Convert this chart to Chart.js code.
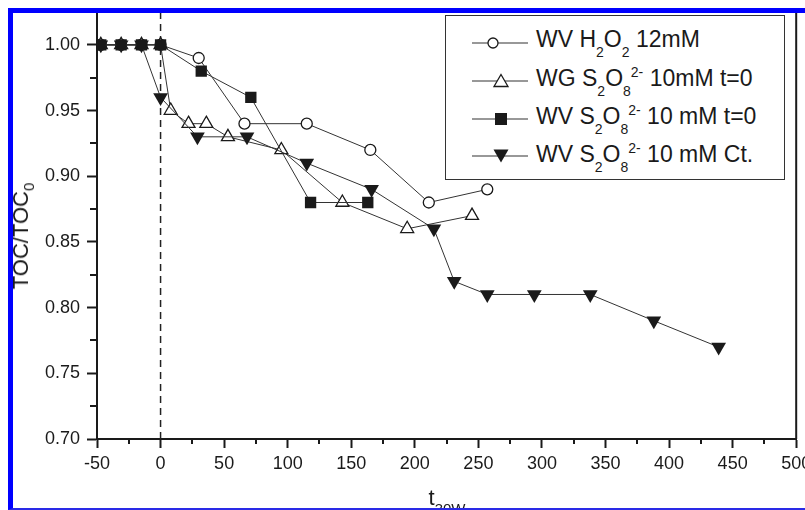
<!DOCTYPE html>
<html>
<head>
<meta charset="utf-8">
<script src="https://cdn.jsdelivr.net/npm/chart.js@4.4.1/dist/chart.umd.min.js"></script>
<style>
  body { margin: 0; background: #fff; }
  #wrap { position: relative; width: 805px; height: 510px; overflow: hidden; background: #fff;
          font-family: "Liberation Sans", Arial, sans-serif; color: #1a1a1a; }
  #c { position: absolute; left: 0; top: 0; }
  #frame { position: absolute; left: 8px; top: 8px; width: 900px; height: 495px;
           border-top: 5px solid #0000ff; border-left: 5px solid #0000ff; border-bottom: 2px solid #2a2ae6;
           pointer-events: none; z-index: 5; }
  #legend { position: absolute; left: 445px; top: 15px; width: 338px; height: 163px;
            border: 1.5px solid #333; background: #fff; }
  .row { position: absolute; left: 90px; font-size: 23px; line-height: 23px; white-space: nowrap; }
  .sub, .sup { position: relative; font-size: 14px; }
  .sub { top: 10px; }
  .sup { top: -9px; }
  .mk { position: absolute; left: 20px; }
  #ytitle { position: absolute; left: 22px; top: 236px; font-size: 22px; line-height: 22px; white-space: nowrap;
            transform: translate(-50%, -50%) rotate(-90deg); }
  #xtitle { position: absolute; left: 447px; top: 487px; font-size: 22px; line-height: 22px; white-space: nowrap;
            transform: translateX(-50%); }
  #ytitle .sub { font-size: 15px; top: 6px; }
  #xtitle .sub { font-size: 15px; top: 9px; }
</style>
</head>
<body>
<div id="wrap">
  <canvas id="c" width="805" height="510"></canvas>
  <div id="ytitle">TOC/TOC<span class="sub">0</span></div>
  <div id="xtitle">t<span class="sub">30W</span></div>
  <div id="legend">
    <svg class="mk" style="top:17px" width="70" height="20">
      <line x1="6" y1="10" x2="62" y2="10" stroke="#333" stroke-width="1.2"/>
      <circle cx="27" cy="10" r="5" fill="#fff" stroke="#1a1a1a" stroke-width="1.3"/>
    </svg>
    <div class="row" style="top:12px">WV H<span class="sub">2</span>O<span class="sub">2</span> 12mM</div>

    <svg class="mk" style="top:55px" width="70" height="20">
      <line x1="6" y1="10" x2="62" y2="10" stroke="#333" stroke-width="1.2"/>
      <polygon points="35,3.5 42,15.5 28,15.5" fill="#fff" stroke="#1a1a1a" stroke-width="1.3"/>
    </svg>
    <div class="row" style="top:50.5px">WG S<span class="sub">2</span>O<span class="sub">8</span><span class="sup">2-</span> 10mM t=0</div>

    <svg class="mk" style="top:93px" width="70" height="20">
      <line x1="6" y1="10" x2="62" y2="10" stroke="#333" stroke-width="1.2"/>
      <rect x="29" y="4" width="12" height="12" fill="#1a1a1a"/>
    </svg>
    <div class="row" style="top:88.5px">WV S<span class="sub">2</span>O<span class="sub">8</span><span class="sup">2-</span> 10 mM t=0</div>

    <svg class="mk" style="top:130px" width="70" height="20">
      <line x1="6" y1="10" x2="62" y2="10" stroke="#333" stroke-width="1.2"/>
      <polygon points="27.5,3.5 42.5,3.5 35,16.5" fill="#1a1a1a"/>
    </svg>
    <div class="row" style="top:127px">WV S<span class="sub">2</span>O<span class="sub">8</span><span class="sup">2-</span> 10 mM Ct.</div>
  </div>
  <div id="frame"></div>
</div>
<script>
// axis ticks
const xTicks = [-50, 0, 50, 100, 150, 200, 250, 300, 350, 400, 450, 500];
const yTicks = [0.70, 0.75, 0.80, 0.85, 0.90, 0.95, 1.00];

// WV H2O2 12mM (open circles)
const h2o2Time = [-47, -31, -15, 0, 30, 66, 115, 165, 211, 257];
const h2o2Toc  = [1.00, 1.00, 1.00, 1.00, 0.99, 0.94, 0.94, 0.92, 0.88, 0.89];

// WG S2O8 10mM t=0 (open triangles)
const wgTime = [-47, -31, -15, 0, 8, 22, 36, 53, 95, 143, 194, 245];
const wgToc  = [1.00, 1.00, 1.00, 1.00, 0.95, 0.94, 0.94, 0.93, 0.92, 0.88, 0.86, 0.87];

// WV S2O8 10 mM t=0 (filled squares)
const wvT0Time = [-47, -31, -15, 0, 32, 71, 118, 163];
const wvT0Toc  = [1.00, 1.00, 1.00, 1.00, 0.98, 0.96, 0.88, 0.88];

// WV S2O8 10 mM Ct. (filled down triangles)
const wvCtTime = [-47, -31, -15, 0, 29, 68, 115, 166, 215, 231, 257, 294, 338, 388, 439];
const wvCtToc  = [1.00, 1.00, 1.00, 0.96, 0.93, 0.93, 0.91, 0.89, 0.86, 0.82, 0.81, 0.81, 0.81, 0.79, 0.77];

const toPoints = (xs, ys) => xs.map((x, i) => ({ x: x, y: ys[i] }));

const ink = '#1a1a1a';
const tickFont = { family: '"Liberation Sans", Arial, sans-serif', size: 18 };

// minor ticks + right/top frame
const axisExtras = {
  id: 'axisExtras',
  afterDraw(chart) {
    const { ctx, chartArea: a, scales: { x, y } } = chart;
    ctx.save();
    ctx.strokeStyle = ink;
    ctx.lineWidth = 2;
    ctx.beginPath();
    ctx.moveTo(a.left, a.top);
    ctx.lineTo(a.right, a.top);
    ctx.lineTo(a.right, a.bottom);
    for (let i = 0; i < xTicks.length - 1; i++) {
      const px = Math.round(x.getPixelForValue((xTicks[i] + xTicks[i + 1]) / 2));
      ctx.moveTo(px, a.bottom);
      ctx.lineTo(px, a.bottom + 5);
    }
    for (let i = 0; i < yTicks.length - 1; i++) {
      const py = Math.round(y.getPixelForValue((yTicks[i] + yTicks[i + 1]) / 2));
      ctx.moveTo(a.left, py);
      ctx.lineTo(a.left - 7, py);
    }
    ctx.stroke();
    ctx.restore();
  }
};

new Chart(document.getElementById('c'), {
  type: 'scatter',
  data: {
    datasets: [
      {
        label: 'WV H2O2 12mM', data: toPoints(h2o2Time, h2o2Toc), order: 4,
        showLine: true, borderColor: '#333', borderWidth: 1,
        pointStyle: 'circle', pointRadius: 5.5, pointBackgroundColor: '#fff',
        pointBorderColor: ink, pointBorderWidth: 1.3
      },
      {
        label: 'WG S2O8 10mM t=0', data: toPoints(wgTime, wgToc), order: 3,
        showLine: true, borderColor: '#333', borderWidth: 1,
        pointStyle: 'triangle', pointRadius: 7.5, pointBackgroundColor: '#fff',
        pointBorderColor: ink, pointBorderWidth: 1.3
      },
      {
        label: 'WV S2O8 10 mM t=0', data: toPoints(wvT0Time, wvT0Toc), order: 2,
        showLine: true, borderColor: '#333', borderWidth: 1,
        pointStyle: 'rect', pointRadius: 8, pointBackgroundColor: ink,
        pointBorderColor: ink, pointBorderWidth: 0
      },
      {
        label: 'WV S2O8 10 mM Ct.', data: toPoints(wvCtTime, wvCtToc), order: 1,
        showLine: true, borderColor: '#333', borderWidth: 1,
        pointStyle: 'triangle', pointRotation: 180, pointRadius: 8.5, pointBackgroundColor: ink,
        pointBorderColor: ink, pointBorderWidth: 0
      },
      {
        label: 't=0', data: [{ x: 0, y: 0.70 }, { x: 0, y: 1.025 }], order: 10,
        showLine: true, borderColor: '#222', borderWidth: 1.5, borderDash: [7, 5],
        pointRadius: 0
      }
    ]
  },
  options: {
    responsive: false,
    animation: false,
    devicePixelRatio: 1,
    layout: { padding: { left: 0, right: 7, top: 12, bottom: 0 } },
    plugins: { legend: { display: false }, tooltip: { enabled: false } },
    scales: {
      x: {
        type: 'linear', min: -50, max: 500,
        afterBuildTicks: s => { s.ticks = xTicks.map(v => ({ value: v })); },
        afterFit: s => { s.height = 71; s.paddingLeft = 0; s.paddingRight = 0; },
        border: { display: true, color: ink, width: 2 },
        grid: { drawOnChartArea: false, drawTicks: true, tickLength: 9, tickWidth: 2, tickColor: ink },
        ticks: { color: ink, font: tickFont, padding: 5, maxRotation: 0, autoSkip: false,
                 callback: v => String(v) }
      },
      y: {
        type: 'linear', min: 0.70, max: 1.025,
        afterBuildTicks: s => { s.ticks = yTicks.map(v => ({ value: v })); },
        afterFit: s => { s.width = 97; s.paddingTop = 0; s.paddingBottom = 0; },
        border: { display: true, color: ink, width: 2 },
        grid: { drawOnChartArea: false, drawTicks: true, tickLength: 10, tickWidth: 2, tickColor: ink },
        ticks: { color: ink, font: tickFont, padding: 7, autoSkip: false,
                 callback: v => v.toFixed(2) }
      }
    }
  },
  plugins: [axisExtras]
});
</script>
</body>
</html>
